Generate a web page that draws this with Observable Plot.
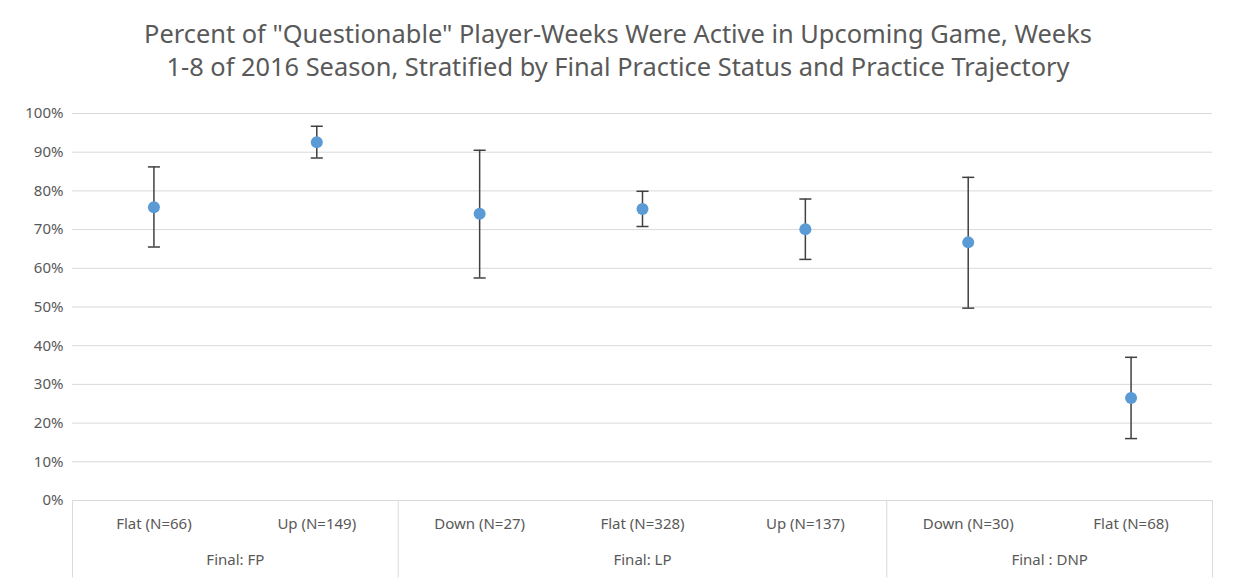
<!DOCTYPE html>
<html><head><meta charset="utf-8">
<script src="https://cdn.jsdelivr.net/npm/d3@7"></script>
<script src="https://cdn.jsdelivr.net/npm/@observablehq/plot@0.6"></script>
<style>
body{margin:0;background:#fff;font-family:"Noto Sans",sans-serif}
#title{height:90px;box-sizing:border-box;padding-top:17px;text-align:center;color:#595959;font-size:25.4px;line-height:33px}
</style></head><body>
<div id="title">Percent of "Questionable" Player-Weeks Were Active in Upcoming Game, Weeks<br>1-8 of 2016 Season, Stratified by Final Practice Status and Practice Trajectory</div>
<div id="chart"></div>
<script>
const categories = ["Flat (N=66)", "Up (N=149)", "Down (N=27)", "Flat (N=328)", "Up (N=137)", "Down (N=30)", "Flat (N=68)"]
const pct = [0.758, 0.926, 0.741, 0.753, 0.701, 0.667, 0.265]
const low = [0.655, 0.885, 0.575, 0.708, 0.623, 0.497, 0.160]
const high = [0.862, 0.967, 0.905, 0.799, 0.779, 0.835, 0.370]
const groups = ["Final: FP", "Final: LP", "Final : DNP"]
const groupCenters = [0.5, 3, 5.5]
const separators = [-0.5, 1.5, 4.5, 6.5]

const rows = categories.map((c, i) => ({i, c, v: pct[i], lo: low[i], hi: high[i]}))
const cap = 0.037

let chart = Plot.plot({
  width: 1236,
  height: 494,
  marginLeft: 72,
  marginRight: 24,
  marginTop: 23,
  marginBottom: 84,
  style: {fontFamily: "Noto Sans", fontSize: "15px", color: "#595959"},
  x: {domain: [-0.5, 6.5], axis: null},
  y: {domain: [0, 1], ticks: d3.range(0, 1.01, 0.1), tickFormat: d3.format(".0%"), tickSize: 0, label: null, grid: false},
  marks: [
    Plot.ruleY(d3.range(0, 1.01, 0.1), {stroke: "#d9d9d9", strokeWidth: 1}),
    Plot.ruleX(separators, {y1: 0, y2: -0.2, stroke: "#d9d9d9"}),
    Plot.ruleX(rows, {x: "i", y1: "lo", y2: "hi", stroke: "#404040", strokeWidth: 1.5}),
    Plot.link(rows, {x1: d => d.i - cap, x2: d => d.i + cap, y1: "lo", y2: "lo", stroke: "#404040", strokeWidth: 1.5}),
    Plot.link(rows, {x1: d => d.i - cap, x2: d => d.i + cap, y1: "hi", y2: "hi", stroke: "#404040", strokeWidth: 1.5}),
    Plot.dot(rows, {x: "i", y: "v", r: 6, fill: "#5b9bd5"}),
    Plot.text(rows, {x: "i", y: -0.06, text: "c", fill: "#595959", fontSize: 15}),
    Plot.text(groups, {x: (d, k) => groupCenters[k], y: -0.155, text: d => d, fill: "#595959", fontSize: 15})
  ]
})
d3.select("#chart").append(() => chart)
</script>
</body></html>
